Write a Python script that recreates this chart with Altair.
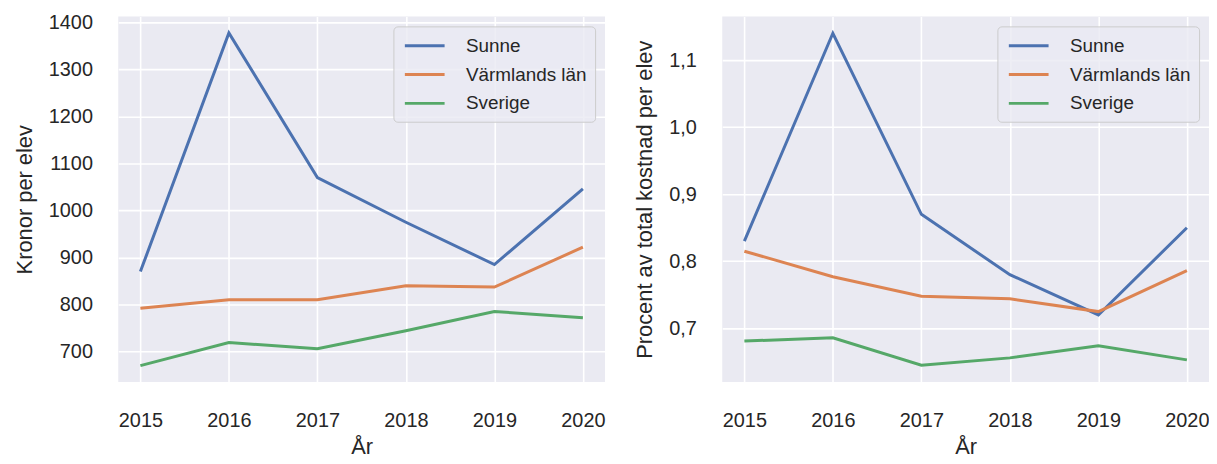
import altair as alt
import pandas as pd

years = [2015, 2016, 2017, 2018, 2019, 2020]
regions = ["Sunne", "Värmlands län", "Sverige"]
colors = ["#4C72B0", "#DD8452", "#55A868"]

kr_sunne = [870, 1378, 1070, 975, 885, 1046]
kr_varmland = [792, 810, 810, 840, 837, 922]
kr_sverige = [670, 719, 706, 744, 785, 772]

pct_sunne = [0.83, 1.14, 0.87, 0.78, 0.72, 0.85]
pct_varmland = [0.815, 0.777, 0.748, 0.744, 0.725, 0.786]
pct_sverige = [0.681, 0.686, 0.645, 0.656, 0.674, 0.653]

kr_ticks = [700, 800, 900, 1000, 1100, 1200, 1300, 1400]
pct_ticks = [0.7, 0.8, 0.9, 1.0, 1.1]


def long_df(series):
    rows = []
    for name, vals in zip(regions, series):
        for y, v in zip(years, vals):
            rows.append({"År": y, "Område": name, "value": v})
    return pd.DataFrame(rows)


df_kr = long_df([kr_sunne, kr_varmland, kr_sverige])
df_pct = long_df([pct_sunne, pct_varmland, pct_sverige])

FONT = "Liberation Sans"
TXT = "#262626"

x_enc = alt.X(
    "År:Q",
    scale=alt.Scale(domain=[2014.75, 2020.25], nice=False, zero=False),
    axis=alt.Axis(values=years, format="d", title="År", labelFlush=False,
                  labelPadding=29, titlePadding=6),
)

color_enc = alt.Color(
    "Område:N",
    scale=alt.Scale(domain=regions, range=colors),
    sort=regions,
    legend=alt.Legend(
        title=None, orient="top-right", offset=10,
        fillColor="rgba(234,234,242,0.8)", strokeColor="#CCCCCC",
        cornerRadius=4, padding=8,
        symbolType="M-2,0H2", symbolStrokeWidth=3, symbolSize=400,
        symbolOffset=12,
        labelFontSize=19, labelFont=FONT, labelColor=TXT,
        labelOffset=30, rowPadding=7,
    ),
)

left = alt.Chart(df_kr).mark_line(strokeWidth=3).encode(
    x=x_enc,
    y=alt.Y(
        "value:Q",
        scale=alt.Scale(domain=[635, 1413], nice=False, zero=False),
        axis=alt.Axis(values=kr_ticks, format="d", title="Kronor per elev",
                      labelPadding=26, titlePadding=12),
    ),
    color=color_enc,
).properties(width=490, height=368)

right = alt.Chart(df_pct).mark_line(strokeWidth=3).encode(
    x=x_enc,
    y=alt.Y(
        "value:Q",
        scale=alt.Scale(domain=[0.620, 1.165], nice=False, zero=False),
        axis=alt.Axis(values=pct_ticks,
                      labelExpr="replace(format(datum.value, '.1f'), '.', ',')",
                      title="Procent av total kostnad per elev",
                      labelPadding=26, titlePadding=12),
    ),
    color=color_enc,
).properties(width=490, height=368)

chart = (
    alt.hconcat(left, right, spacing=29)
    .resolve_legend(color="independent")
    .resolve_scale(y="independent", color="independent")
    .configure_view(fill="#EAEAF2", stroke=None)
    .configure_axis(
        grid=True, gridColor="white", gridWidth=1.6,
        domain=False, ticks=False,
        labelFont=FONT, labelFontSize=20, labelColor=TXT,
        titleFont=FONT, titleFontSize=22, titleColor=TXT, titleFontWeight="normal",
    )
    .properties(background="white",
                padding={"left": 5, "top": 3, "right": 0, "bottom": 2})
)

chart.save("out.html", embed_options={"renderer": "svg", "actions": False})
